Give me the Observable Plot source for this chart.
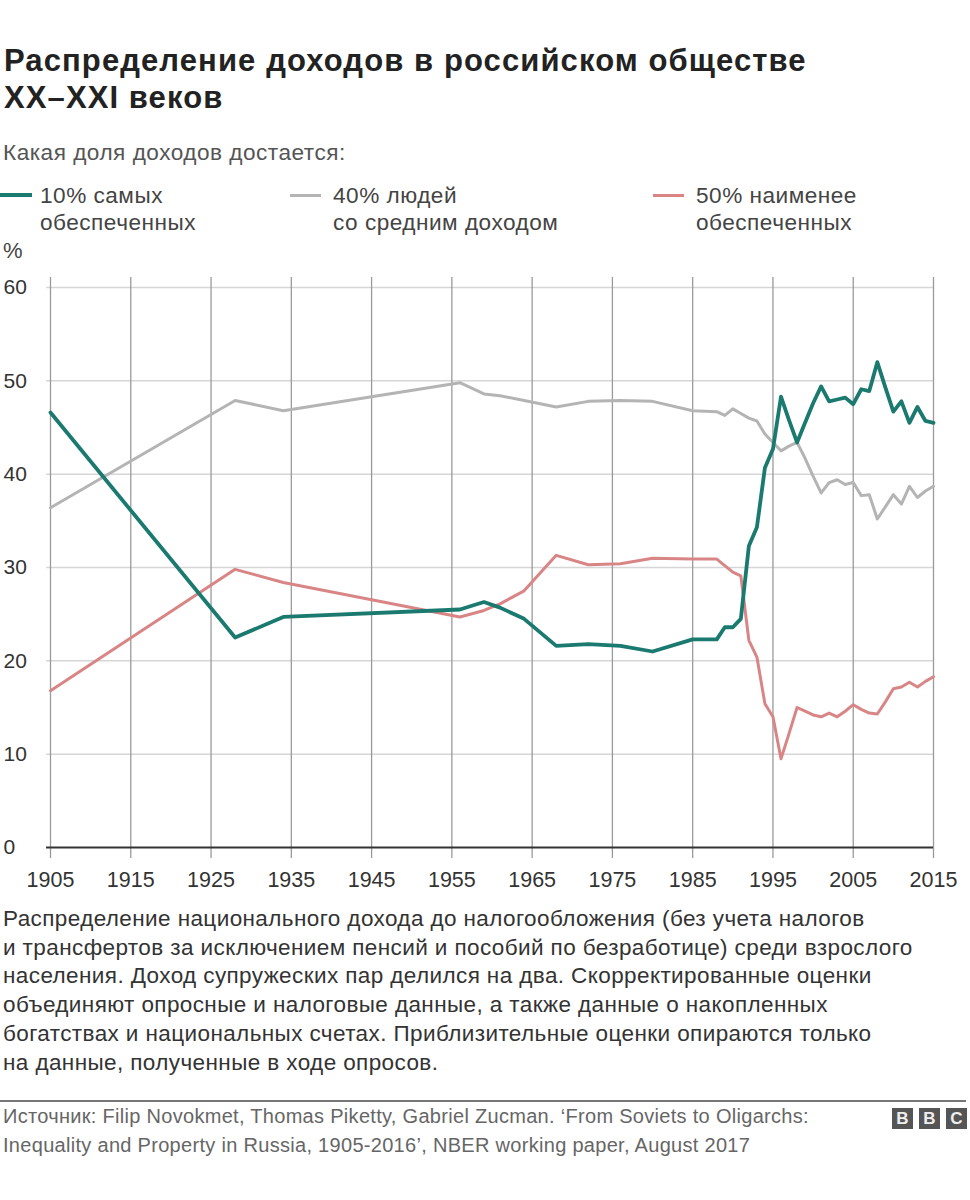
<!DOCTYPE html>
<html>
<head>
<meta charset="utf-8">
<script src="https://cdn.jsdelivr.net/npm/d3@7"></script>
<script src="https://cdn.jsdelivr.net/npm/@observablehq/plot@0.6"></script>
<style>
  html, body { margin: 0; padding: 0; background: #fff; }
  body { width: 970px; height: 1200px; position: relative; font-family: "Liberation Sans", Arial, Helvetica, sans-serif; overflow: hidden; }
  .abs { position: absolute; white-space: nowrap; }
  .title { left: 4px; top: 43px; font-size: 31px; font-weight: bold; line-height: 36.5px; color: #222; letter-spacing: 1.1px; }
  .sub { left: 3px; top: 139px; font-size: 22.6px; line-height: 27px; color: #555; letter-spacing: 0.5px; }
  .leg { font-size: 22.6px; line-height: 27px; color: #444; letter-spacing: 0.5px; }
  .sw { position: absolute; height: 3px; }
  .pct { left: 3px; top: 237px; font-size: 22px; line-height: 27px; color: #444; }
  .note { left: 3px; top: 905px; font-size: 22.5px; line-height: 28.7px; color: #333; letter-spacing: 0.4px; }
  .rule { left: 0; top: 1100px; width: 966px; height: 2px; background: #777; }
  .src { left: 3px; top: 1101.5px; font-size: 20px; line-height: 29px; color: #666; letter-spacing: 0.3px; }
  .bbc { top: 1108px; width: 21px; height: 21px; background: #555; color: #eee; font-weight: bold; font-size: 17px; line-height: 21px; text-align: center; }
  #chart { position: absolute; left: 0; top: 250px; }
</style>
</head>
<body>
<div class="abs title">Распределение доходов в российском обществе<br>XX–XXI веков</div>
<div class="abs sub">Какая доля доходов достается:</div>
<div id="legend"></div>
<div class="abs pct">%</div>
<div id="chart"></div>
<div class="abs note">Распределение национального дохода до налогообложения (без учета налогов<br>и трансфертов за исключением пенсий и пособий по безработице) среди взрослого<br>населения. Доход супружеских пар делился на два. Скорректированные оценки<br>объединяют опросные и налоговые данные, а также данные о накопленных<br>богатствах и национальных счетах. Приблизительные оценки опираются только<br>на данные, полученные в ходе опросов.</div>
<div class="abs rule"></div>
<div class="abs src">Источник: Filip Novokmet, Thomas Piketty, Gabriel Zucman. ‘From Soviets to Oligarchs:<br>Inequality and Property in Russia, 1905-2016’, NBER working paper, August 2017</div>
<div class="abs bbc" style="left:892px">B</div>
<div class="abs bbc" style="left:919px">B</div>
<div class="abs bbc" style="left:946px">C</div>
<script>
// ---- data ----
const years = [1905, 1928, 1934, 1956, 1959, 1961, 1964, 1968, 1972, 1976, 1980, 1985, 1988, 1989, 1990,
  1991, 1992, 1993, 1994, 1995, 1996, 1997, 1998, 1999, 2000, 2001, 2002, 2003, 2004, 2005,
  2006, 2007, 2008, 2009, 2010, 2011, 2012, 2013, 2014, 2015];
const top10 = [46.6, 22.5, 24.7, 25.5, 26.3, 25.7, 24.5, 21.6, 21.8, 21.6, 21.0, 22.3, 22.3, 23.6, 23.6,
  24.5, 32.3, 34.3, 40.7, 42.7, 48.3, 45.8, 43.4, 45.5, 47.6, 49.4, 47.8, 48.0, 48.2, 47.5,
  49.1, 48.9, 52.0, 49.3, 46.7, 47.8, 45.5, 47.2, 45.7, 45.5];
const middle40 = [36.4, 47.9, 46.8, 49.8, 48.6, 48.4, 47.9, 47.2, 47.8, 47.9, 47.8, 46.8, 46.7, 46.3, 47.0,
  46.5, 46.0, 45.7, 44.3, 43.4, 42.5, 43.0, 43.4, 41.7, 39.8, 38.0, 39.1, 39.4, 38.9, 39.1,
  37.7, 37.8, 35.2, 36.5, 37.8, 36.8, 38.7, 37.5, 38.2, 38.7];
const bottom50 = [16.8, 29.8, 28.4, 24.7, 25.4, 26.1, 27.5, 31.3, 30.3, 30.4, 31.0, 30.9, 30.9, 30.2, 29.5,
  29.1, 22.2, 20.4, 15.4, 14.0, 9.5, 12.2, 15.0, 14.6, 14.2, 14.0, 14.4, 14.0, 14.6, 15.3,
  14.8, 14.4, 14.3, 15.6, 17.0, 17.2, 17.7, 17.2, 17.8, 18.3];
const seriesNames = ["10% самых\nобеспеченных", "40% людей\nсо средним доходом", "50% наименее\nобеспеченных"];
const seriesColors = ["#1b7a70", "#b4b4b4", "#d98585"];
const xTicks = [1905, 1915, 1925, 1935, 1945, 1955, 1965, 1975, 1985, 1995, 2005, 2015];
const yTicks = [0, 10, 20, 30, 40, 50, 60];

// ---- legend ----
const legendX = [0, 290, 653];
const legend = document.getElementById("legend");
seriesNames.forEach((name, i) => {
  const sw = document.createElement("div");
  sw.className = "sw";
  sw.style.left = legendX[i] + "px";
  sw.style.top = (i === 0 ? 193 : 194) + "px";
  sw.style.width = (i === 0 ? 32 : 31) + "px";
  sw.style.height = (i === 0 ? 4 : 3) + "px";
  sw.style.background = seriesColors[i];
  legend.appendChild(sw);
  const t = document.createElement("div");
  t.className = "abs leg";
  t.style.left = (legendX[i] + (i === 0 ? 40 : 43)) + "px";
  t.style.top = "181.7px";
  t.innerHTML = name.replace("\n", "<br>");
  legend.appendChild(t);
});

// ---- table ----
const rows = [];
const seriesVals = [top10, middle40, bottom50];
seriesVals.forEach((vals, s) => years.forEach((y, i) => rows.push({year: y, value: vals[i], s})));

const chart = Plot.plot({
  width: 970,
  height: 660,
  marginLeft: 50,
  marginRight: 37,
  marginTop: 37,
  marginBottom: 63,
  x: {domain: [1905, 2015], axis: null},
  y: {domain: [0, 60], axis: null},
  style: {fontFamily: '"Liberation Sans", Arial, Helvetica, sans-serif', background: "transparent"},
  marks: [
    Plot.ruleY(yTicks.filter(d => d > 0), {y: d => d, stroke: "#d6d6d6", strokeWidth: 1.5, insetLeft: -4}),
    Plot.ruleX(xTicks, {x: d => d, stroke: "#9a9a9a", strokeWidth: 1.3, insetTop: -10, insetBottom: -11}),
    Plot.ruleY([0], {y: d => d, stroke: "#333", strokeWidth: 2, insetLeft: -4}),
    Plot.line(rows.filter(d => d.s === 1), {x: "year", y: "value", stroke: seriesColors[1], strokeWidth: 3, strokeLinejoin: "round"}),
    Plot.line(rows.filter(d => d.s === 2), {x: "year", y: "value", stroke: seriesColors[2], strokeWidth: 3, strokeLinejoin: "round"}),
    Plot.line(rows.filter(d => d.s === 0), {x: "year", y: "value", stroke: seriesColors[0], strokeWidth: 3.8, strokeLinejoin: "round"}),
    Plot.text(yTicks, {y: d => d, text: d => String(d), frameAnchor: "left", textAnchor: "start", dx: -47, fontSize: 21, fill: "#333"}),
    Plot.text(xTicks, {x: d => d, y: 0, text: d => String(d), dy: 33, fontSize: 21.5, fill: "#333"})
  ]
});
document.getElementById("chart").appendChild(chart);
</script>
</body>
</html>
